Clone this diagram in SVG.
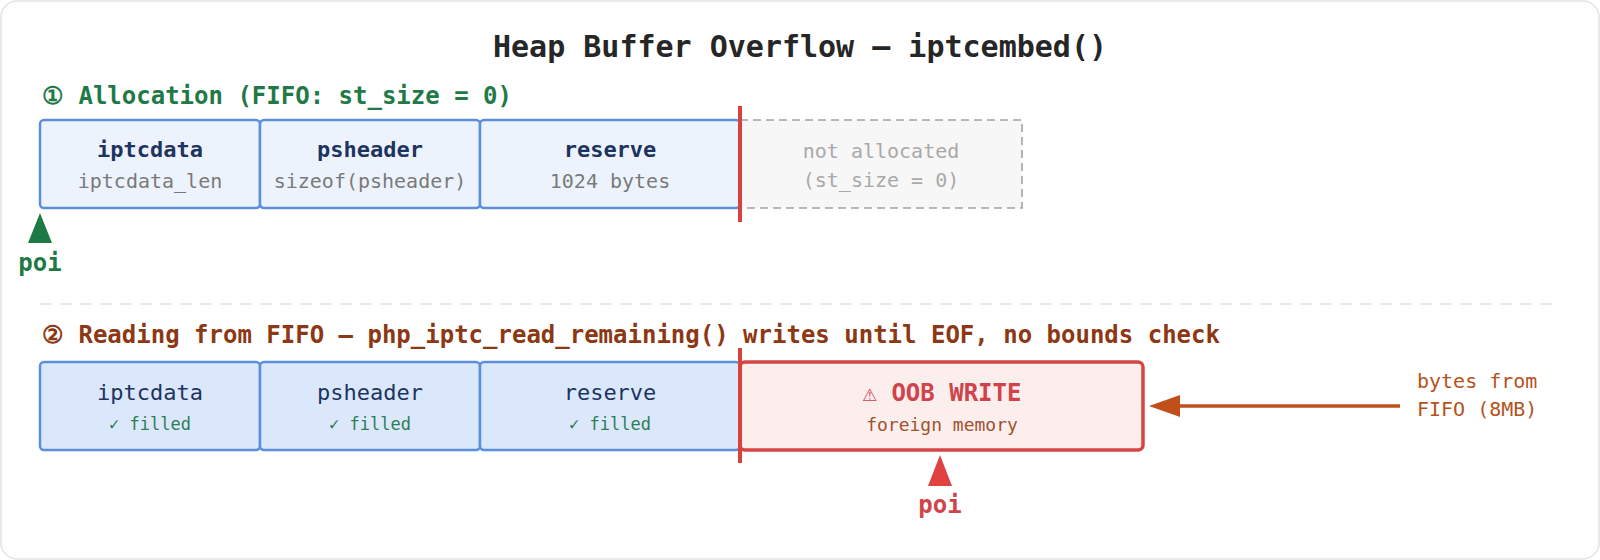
<svg xmlns="http://www.w3.org/2000/svg" width="1600" height="560" viewBox="0 0 1600 560">
  <defs>
    <style>
      text { font-family: "DejaVu Sans Mono", "Liberation Mono", monospace; }
      .title { font-size: 30px; font-weight: bold; fill: #262626; text-anchor: middle; }
      .sec1 { font-size: 24px; font-weight: bold; fill: #1f7a47; }
      .sec2 { font-size: 24px; font-weight: bold; fill: #8c3814; }
      .alloc { fill: #edf3fc; stroke: #5b8fdb; stroke-width: 2.5; }
      .fill2 { fill: #dbe8fb; stroke: #5b8fdb; stroke-width: 2.5; }
      .lbl { font-size: 22px; fill: #1d3461; text-anchor: middle; }
      .lblb { font-size: 22px; font-weight: bold; fill: #1d3461; text-anchor: middle; }
      .sub { font-size: 20px; fill: #7a7a7a; text-anchor: middle; }
      .ok { font-size: 17px; fill: #2f7d52; text-anchor: middle; }
      .na { fill: #f7f7f7; stroke: #a3a3a3; stroke-width: 1.6; stroke-dasharray: 8 5; }
      .natxt { font-size: 20px; fill: #a9a9a9; text-anchor: middle; }
      .edge { stroke: #d9413f; stroke-width: 4; }
      .poi { font-size: 24px; font-weight: bold; text-anchor: middle; }
    </style>
    <marker id="ah" viewBox="0 0 31 22" refX="0" refY="11" markerWidth="31" markerHeight="22" markerUnits="userSpaceOnUse" orient="auto">
      <path d="M0,0 L31,11 L0,22 z" fill="#c14f1b"/>
    </marker>
  </defs>

  <rect x="1" y="1" width="1598" height="558" rx="16" fill="#ffffff" stroke="#e3e3e3" stroke-width="1.5"/>

  <text class="title" x="800" y="57">Heap Buffer Overflow — iptcembed()</text>

  <!-- Section 1 -->
  <text class="sec1" x="42" y="104">① Allocation (FIFO: st_size = 0)</text>

  <g id="alloc-iptcdata">
    <rect class="alloc" x="40" y="120" width="220" height="88" rx="4"/>
    <text class="lblb" x="150" y="157">iptcdata</text>
    <text class="sub" x="150" y="188">iptcdata_len</text>
  </g>
  <g id="alloc-psheader">
    <rect class="alloc" x="260" y="120" width="220" height="88" rx="4"/>
    <text class="lblb" x="370" y="157">psheader</text>
    <text class="sub" x="370" y="188">sizeof(psheader)</text>
  </g>
  <g id="alloc-reserve">
    <rect class="alloc" x="480" y="120" width="260" height="88" rx="4"/>
    <text class="lblb" x="610" y="157">reserve</text>
    <text class="sub" x="610" y="188">1024 bytes</text>
  </g>
  <g id="not-allocated">
    <rect class="na" x="740" y="120" width="282" height="88"/>
    <text class="natxt" x="881" y="158">not allocated</text>
    <text class="natxt" x="881" y="187">(st_size = 0)</text>
  </g>
  <line class="edge" x1="740" y1="106" x2="740" y2="222"/>

  <g id="poi-alloc">
    <polygon points="40,213 28,243 52,243" fill="#1e7a45"/>
    <text class="poi" x="40" y="271" fill="#1e7a45">poi</text>
  </g>

  <line x1="40" y1="304" x2="1552" y2="304" stroke="#e4e4e4" stroke-width="1.5" stroke-dasharray="12 8"/>

  <!-- Section 2 -->
  <text class="sec2" x="42" y="343">② Reading from FIFO — php_iptc_read_remaining() writes until EOF, no bounds check</text>

  <g id="read-iptcdata">
    <rect class="fill2" x="40" y="362" width="220" height="88" rx="4"/>
    <text class="lbl" x="150" y="400">iptcdata</text>
    <text class="ok" x="150" y="430">✓ filled</text>
  </g>
  <g id="read-psheader">
    <rect class="fill2" x="260" y="362" width="220" height="88" rx="4"/>
    <text class="lbl" x="370" y="400">psheader</text>
    <text class="ok" x="370" y="430">✓ filled</text>
  </g>
  <g id="read-reserve">
    <rect class="fill2" x="480" y="362" width="260" height="88" rx="4"/>
    <text class="lbl" x="610" y="400">reserve</text>
    <text class="ok" x="610" y="430">✓ filled</text>
  </g>
  <g id="oob-write">
    <rect x="740" y="362" width="403" height="88" rx="5" fill="#fdeeee" stroke="#d64545" stroke-width="3.5"/>
    <text x="942" y="401" text-anchor="middle" font-size="24" font-weight="bold" fill="#d0434b">⚠ OOB WRITE</text>
    <text x="942" y="431" text-anchor="middle" font-size="18" fill="#a0522d">foreign memory</text>
  </g>
  <line class="edge" x1="740" y1="348" x2="740" y2="463"/>

  <g id="poi-oob">
    <polygon points="940,455 928,486 952,486" fill="#e04242"/>
    <text class="poi" x="940" y="513" fill="#d0434b">poi</text>
  </g>

  <g id="fifo-source">
    <text x="1417" y="388" font-size="20" fill="#b5531d">bytes from</text>
    <text x="1417" y="416" font-size="20" fill="#b5531d">FIFO (8MB)</text>
  </g>

  <g id="connectors">
    <line x1="1400" y1="406" x2="1180" y2="406" stroke="#c14f1b" stroke-width="3.5" marker-end="url(#ah)"/>
  </g>
</svg>
